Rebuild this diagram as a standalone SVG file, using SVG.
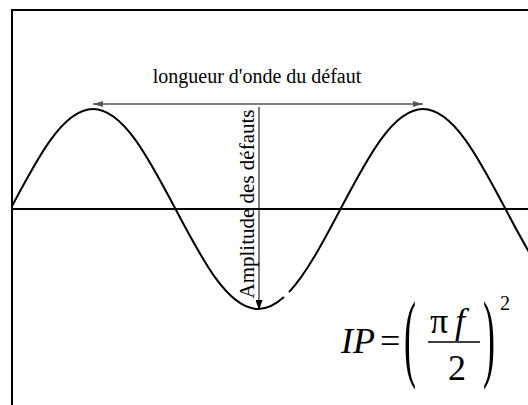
<svg xmlns="http://www.w3.org/2000/svg" width="528" height="405" viewBox="0 0 528 405">
<style>
.t{font-family:"Liberation Serif","Times New Roman",serif;fill:#000}
.curve{fill:none;stroke:#000;stroke-width:2;stroke-linejoin:round}
</style>
<defs>
<marker id="ahg" viewBox="0 0 10 6" refX="10" refY="3" markerWidth="10" markerHeight="6" markerUnits="userSpaceOnUse" orient="auto-start-reverse"><path d="M0,0 L10,3 L0,6 Z" fill="#555"/></marker>
<marker id="ahk" viewBox="0 0 10 7" refX="10" refY="3.5" markerWidth="10" markerHeight="7" markerUnits="userSpaceOnUse" orient="auto"><path d="M0,0 L10,3.5 L0,7 Z" fill="#000"/></marker>
<clipPath id="fr"><rect x="12" y="10" width="516" height="395"/></clipPath>
</defs>
<rect width="528" height="405" fill="#fff"/>
<g id="frame"><rect x="12" y="10" width="530" height="410" fill="none" stroke="#000" stroke-width="2"/></g>
<g id="axis"><line x1="12" y1="209" x2="528" y2="209" stroke="#000" stroke-width="2.2"/></g>
<g id="wave" clip-path="url(#fr)">
<path class="curve" d="M10.5,209 C37.4,157.8 63.14,109 93,109 C122.86,109 148.6,157.8 175.5,209 C202.4,260.2 228.14,309 258,309 C266.67,309 275.33,304.84 284,297"/>
<path class="curve" d="M289,292.1 C306.17,273.9 323.33,241.7 340.5,209 C367.4,157.8 393.14,109 423,109 C452.86,109 478.6,157.8 505.5,209 C532.4,260.2 558.14,309 588,309"/>
</g>
<g id="connectors">
<line x1="93" y1="104" x2="423" y2="104" stroke="#555" stroke-width="1.5" marker-start="url(#ahg)" marker-end="url(#ahg)"/>
<line x1="259" y1="107" x2="259" y2="310" stroke="#000" stroke-width="1" marker-end="url(#ahk)"/>
</g>
<g id="label-wavelength"><text class="t" x="257" y="83" font-size="20" text-anchor="middle">longueur d'onde du défaut</text></g>
<g id="label-amplitude"><text class="t" transform="translate(254,204) rotate(-90)" font-size="21" text-anchor="middle">Amplitude des défauts</text></g>
<g id="formula" class="t">
<text class="t" x="341" y="353" font-size="36" font-style="italic">IP</text>
<text class="t" x="380" y="353" font-size="36">=</text>
<text class="t" transform="translate(404,344) scale(1,2.7)" x="0" y="9.3" font-size="36">(</text>
<text class="t" transform="translate(483,344) scale(1,2.7)" x="0" y="9.3" font-size="36">)</text>
<text class="t" x="430" y="333" font-size="36">π</text>
<text class="t" x="455" y="333" font-size="36" font-style="italic">f</text>
<line x1="428" y1="342" x2="480" y2="342" stroke="#000" stroke-width="1.5"/>
<text class="t" x="448" y="380" font-size="36">2</text>
<text class="t" x="500" y="310" font-size="20">2</text>
</g>
</svg>
